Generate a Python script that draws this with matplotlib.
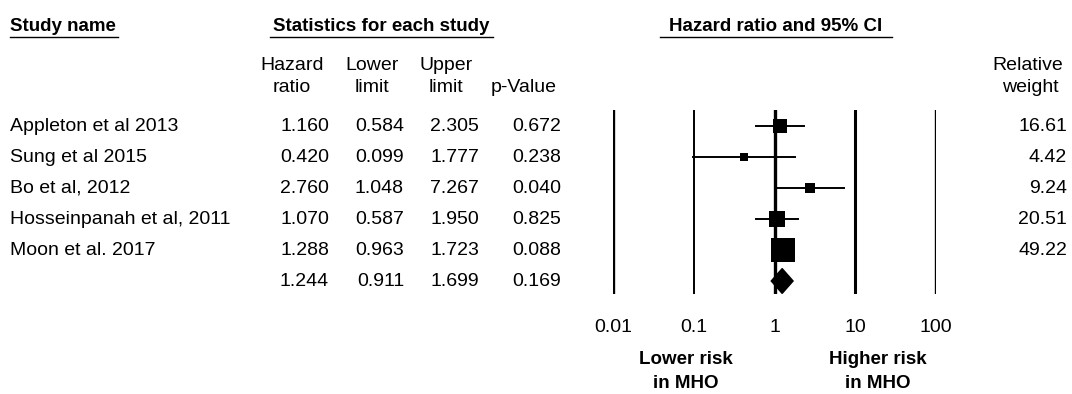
import numpy as np
import matplotlib
matplotlib.use("Agg")
import matplotlib.pyplot as plt
from matplotlib.patches import Polygon

plt.rcParams['font.family'] = ['Liberation Sans', 'DejaVu Sans']

# study data
studies = ["Appleton et al 2013", "Sung et al 2015", "Bo et al, 2012",
           "Hosseinpanah et al, 2011", "Moon et al. 2017"]
hazard = [1.160, 0.420, 2.760, 1.070, 1.288]
lower = [0.584, 0.099, 1.048, 0.587, 0.963]
upper = [2.305, 1.777, 7.267, 1.950, 1.723]
pvals = [0.672, 0.238, 0.040, 0.825, 0.088]
weights = [16.61, 4.42, 9.24, 20.51, 49.22]

# pooled estimate
pooled = (1.244, 0.911, 1.699, 0.169)

ticks = [0.01, 0.1, 1, 10, 100]
tick_labels = ["0.01", "0.1", "1", "10", "100"]
line_widths = [2.4, 1.4, 2.4, 2.2, 1.7]

W, H = 1072, 394
fig = plt.figure(figsize=(W / 100, H / 100), dpi=100)

# full-figure axes in pixel coordinates for the table text
tx = fig.add_axes([0, 0, 1, 1])
tx.set_xlim(0, W)
tx.set_ylim(H, 0)
tx.axis("off")

fs = 14
fsb = 13.5
row0, dy = 126, 31

# header titles with underline
def header(x0, x1, xt, text, ha="center"):
    tx.text(xt, 26, text, fontsize=fsb, fontweight="bold", ha=ha, va="center")
    tx.plot([x0, x1], [37, 37], color="black", lw=1.0)

header(10, 118, 10, "Study name", ha="left")
header(270, 493, 381, "Statistics for each study")
header(660, 892, 776, "Hazard ratio and 95% CI")

col_right = [329, 404, 479, 561]
col_head = [("Hazard", "ratio"), ("Lower", "limit"), ("Upper", "limit"), ("", "p-Value")]
head_center = [292, 372, 446, 524]
for xc, (a, b) in zip(head_center, col_head):
    if a:
        tx.text(xc, 65, a, fontsize=fs, ha="center", va="center")
    tx.text(xc, 87, b, fontsize=fs, ha="center", va="center")
tx.text(1028, 65, "Relative", fontsize=fs, ha="center", va="center")
tx.text(1030, 87, "weight", fontsize=fs, ha="center", va="center")

for i, name in enumerate(studies):
    y = row0 + dy * i
    tx.text(10, y, name, fontsize=fs, ha="left", va="center")
    vals = [hazard[i], lower[i], upper[i], pvals[i]]
    for xr, v in zip(col_right, vals):
        tx.text(xr, y, f"{v:.3f}", fontsize=fs, ha="right", va="center")
    tx.text(1067, y, f"{weights[i]:.2f}", fontsize=fs, ha="right", va="center")

y = row0 + dy * len(studies)
for xr, v in zip(col_right, pooled):
    tx.text(xr, y, f"{v:.3f}", fontsize=fs, ha="right", va="center")

# forest plot axes: 0.01 at px 613, 100 at px 936; vertical 110..294
x0p, x1p, y0p, y1p = 613, 936, 110, 294
fx = fig.add_axes([x0p / W, 1 - y1p / H, (x1p - x0p) / W, (y1p - y0p) / H])
fx.set_xscale("log")
fx.set_xlim(0.01, 100)
top_i = (y0p - row0) / dy
bot_i = (y1p - row0) / dy
fx.set_ylim(bot_i, top_i)
fx.axis("off")

for t, lw in zip(ticks, line_widths):
    fx.axvline(t, color="black", lw=lw)

for i in range(len(studies)):
    fx.plot([lower[i], upper[i]], [i, i], color="black", lw=1.4)
    side_px = 3.4 * np.sqrt(weights[i])
    fx.plot(hazard[i], i, marker="s", color="black", ms=side_px * 0.72, mew=0)

# pooled diamond
pi = len(studies)
est, lo, hi, _ = pooled
h = 0.4
diamond = Polygon([[lo, pi], [est, pi - h], [hi, pi], [est, pi + h]],
                  closed=True, color="black")
fx.add_patch(diamond)

for t, lab in zip(ticks, tick_labels):
    xpix = x0p + (np.log10(t) + 2) / 4 * (x1p - x0p)
    tx.text(xpix, 327, lab, fontsize=fs, ha="center", va="center")

for xc, lab in [(686, "Lower risk"), (878, "Higher risk")]:
    tx.text(xc, 360, lab, fontsize=fsb, fontweight="bold", ha="center", va="center")
    tx.text(xc, 384, "in MHO", fontsize=fsb, fontweight="bold", ha="center", va="center")

fig.savefig("out.png", dpi=100)
